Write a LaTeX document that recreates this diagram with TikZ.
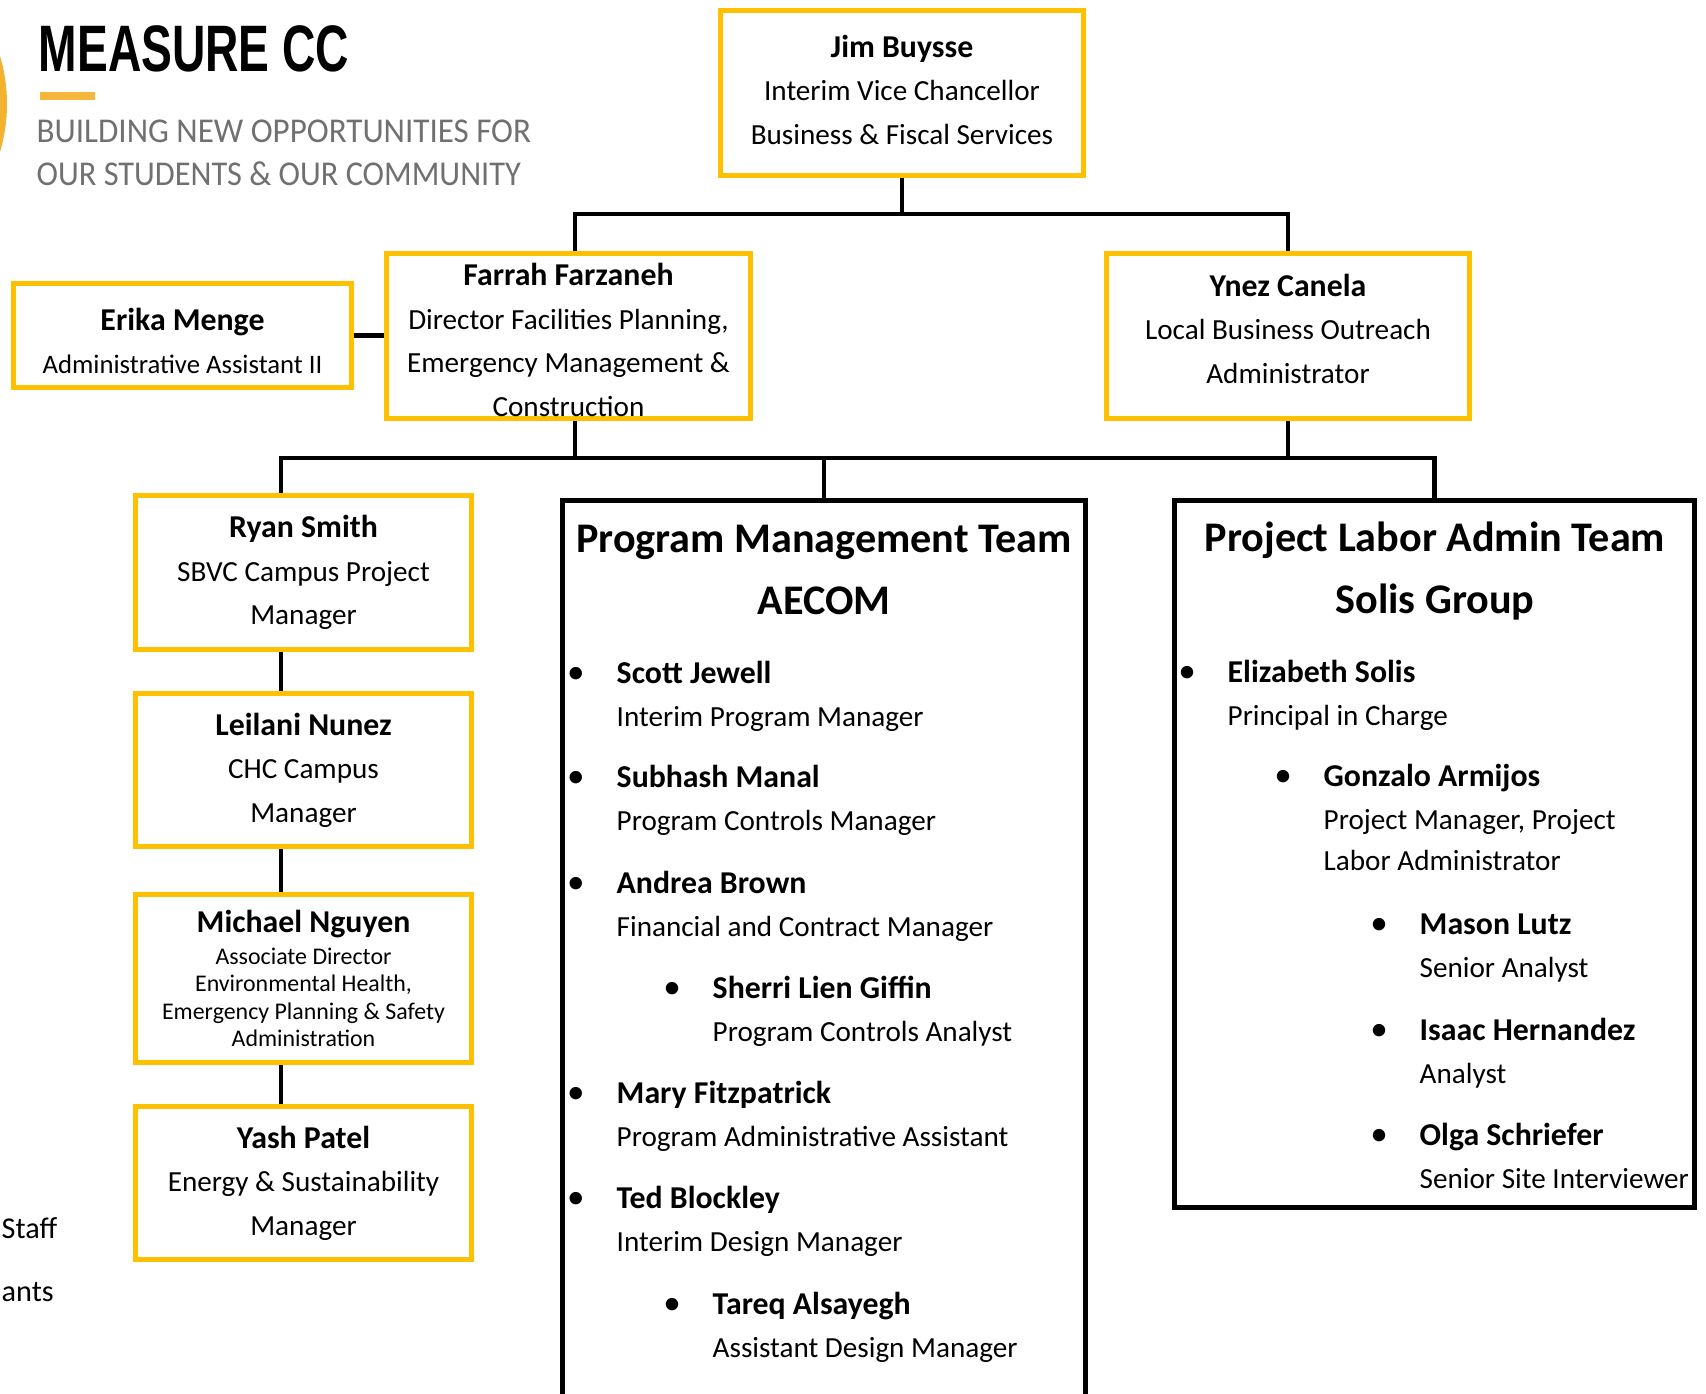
\documentclass[tikz,border=0pt]{standalone}
\usepackage{fontspec}
\usepackage{graphicx}
\usepackage{tikz}
\setmainfont{Carlito}
\newfontfamily\headfont{Liberation Sans}
\definecolor{boxgold}{HTML}{FFC000}
\definecolor{barorange}{HTML}{F5B63C}
\definecolor{logoorange}{HTML}{F4B231}
\definecolor{taglinegray}{HTML}{707070}
\newcommand{\personname}[1]{{\bfseries\fontsize{9.05}{12.4}\selectfont #1}}

\begin{document}
\begin{tikzpicture}[x=0.1mm,y=-0.1mm]
    \tikzstyle{person}=[draw=boxgold, line width=1.45pt, fill=white, align=center, inner sep=0pt, font=\fontsize{8.3}{12.4}\selectfont]
    \tikzstyle{team}=[draw=black, line width=1.3pt, inner sep=0pt]
    \tikzstyle{teamtitle}=[align=center, inner sep=0pt, font=\bfseries\fontsize{12}{17.4}\selectfont]
    \tikzstyle{member}=[anchor=base west, inner sep=0pt, font=\bfseries\fontsize{9.05}{11}\selectfont]
    \tikzstyle{role}=[anchor=base west, inner sep=0pt, font=\fontsize{8.3}{11.7}\selectfont]
    \tikzstyle{dot}=[anchor=base, inner sep=0pt, font=\fontsize{10}{10}\selectfont]
    \tikzstyle{conn}=[line width=1.25pt]
    \useasboundingbox (0,0) rectangle (1706,1394);

    % header
    \fill[logoorange] (-161,104) circle (16.8mm);
    \node[anchor=base west, inner sep=0pt, font=\headfont\bfseries\fontsize{18.7}{20}\selectfont] (measure) at (38,72) {\scalebox{0.703}[1]{MEASURE CC}};
    \fill[barorange] (40,92) rectangle (95,100);
    \node[anchor=base west, inner sep=0pt, text=taglinegray, font=\fontsize{9.9}{12}\selectfont] (tag1) at (36,143) {\scalebox{0.95}[1]{BUILDING NEW OPPORTUNITIES FOR}};
    \node[anchor=base west, inner sep=0pt, text=taglinegray, font=\fontsize{9.9}{12}\selectfont] (tag2) at (36,186) {\scalebox{0.93}[1]{OUR STUDENTS \& OUR COMMUNITY}};

    % people
    \node[person, minimum width=36.3mm, minimum height=16.5mm] (jim) at (902,93) {\personname{Jim Buysse}\\Interim Vice Chancellor\\Business \& Fiscal Services\rule[-1.9pt]{0pt}{0pt}};
    \node[person, minimum width=36.4mm, minimum height=16.5mm] (farrah) at (568.5,336) {\rule{0pt}{8.6pt}\personname{Farrah Farzaneh}\\Director Facilities Planning,\\Emergency Management \&\\Construction};
    \node[person, minimum width=36.3mm, minimum height=16.5mm] (ynez) at (1288,336) {\personname{Ynez Canela}\\Local Business Outreach\\Administrator\rule[-4.3pt]{0pt}{0pt}};
    \node[person, minimum width=33.8mm, minimum height=10.4mm, font=\fontsize{7.6}{12.2}\selectfont] (erika) at (182.5,335.5) {\rule{0pt}{9.5pt}\personname{Erika Menge}\\Administrative Assistant II};
    \node[person, minimum width=33.6mm, minimum height=15.4mm] (ryan) at (303.5,572.5) {\personname{Ryan Smith}\\SBVC Campus Project\\Manager};
    \node[person, minimum width=33.6mm, minimum height=15.3mm] (leilani) at (303.5,770) {\personname{Leilani Nunez}\\CHC Campus\\Manager};
    \node[person, minimum width=33.6mm, minimum height=16.8mm, font=\fontsize{6.8}{7.8}\selectfont] (michael) at (303.5,978.5) {\personname{Michael Nguyen}\\[1.3pt]Associate Director\\Environmental Health,\\Emergency Planning \& Safety\\Administration};
    \node[person, minimum width=33.6mm, minimum height=15.3mm] (yash) at (303.5,1183) {\personname{Yash Patel}\\Energy \& Sustainability\\Manager};

    % teams
    \node[team, minimum width=52.35mm, minimum height=90.15mm] (pm) at (824,951) {};
    \node[team, minimum width=52.05mm, minimum height=70.75mm] (pla) at (1434.5,854) {};
    \node[teamtitle] (pmtitle) at (824,570) {Program Management Team\\AECOM};
    \node[teamtitle] (platitle) at (1435,571) {Project Labor Admin Team\\Solis Group};

    \foreach \tx/\who/\what/\yy in {616/Scott Jewell/Interim Program Manager/684,
        616/Subhash Manal/Program Controls Manager/788,
        616/Andrea Brown/Financial and Contract Manager/894,
        712/Sherri Lien Giffin/Program Controls Analyst/999,
        616/Mary Fitzpatrick/Program Administrative Assistant/1104,
        616/Ted Blockley/Interim Design Manager/1209,
        712/Tareq Alsayegh/Assistant Design Manager/1315} {
      \node[dot] at (\tx-40,\yy) {\textbullet};
      \node[member] (pm\yy) at (\tx,\yy) {\who};
      \node[role] at ([yshift=-4.3mm]pm\yy.base west) {\what};
    }
    \foreach \tx/\who/\what/\yy in {1227/Elizabeth Solis/Principal in Charge/683,
        {1323/Gonzalo Armijos/Project Manager, Project/787},
        1419/Mason Lutz/Senior Analyst/935,
        1419/Isaac Hernandez/Analyst/1041,
        1419/Olga Schriefer/Senior Site Interviewer/1146} {
      \node[dot] at (\tx-40,\yy) {\textbullet};
      \node[member] (pla\yy) at (\tx,\yy) {\who};
      \node[role] at ([yshift=-4.3mm]pla\yy.base west) {\what};
    }
    \node[role] at ([yshift=-8.4mm]pla787.base west) {Labor Administrator};

    % cut legend
    \node[anchor=base west, inner sep=0pt, font=\fontsize{8.6}{10}\selectfont] (staff) at (1,1239) {Staff};
    \node[anchor=base west, inner sep=0pt, font=\fontsize{8.6}{10}\selectfont] (ants) at (1,1302) {ants};

    % connectors
    \coordinate (busA) at (0,214);
    \coordinate (busB) at (0,458);
    \coordinate (fdrop) at ([xshift=0.65mm]farrah.south);
    \coordinate (rdrop) at ([xshift=-2.25mm]ryan.north);
    \draw[conn] (jim.south) -- (jim.south |- busA);
    \draw[conn] ([xshift=0.65mm]farrah.north) |- (jim.south |- busA) -| (ynez.north);
    \draw[conn] (erika.east) -- (erika.east -| farrah.west);
    \draw[conn] (fdrop) -- (fdrop |- busB);
    \draw[conn] (ynez.south) -- (ynez.south |- busB);
    \draw[conn] (rdrop) |- (pla.north |- busB) -- (pla.north);
    \draw[conn] (pm.north) -- (pm.north |- busB);
    \foreach \upper/\lower in {ryan/leilani,leilani/michael,michael/yash}
      \draw[conn] ([xshift=-2.25mm]\upper.south) -- ([xshift=-2.25mm]\lower.north);
\end{tikzpicture}
\end{document}
